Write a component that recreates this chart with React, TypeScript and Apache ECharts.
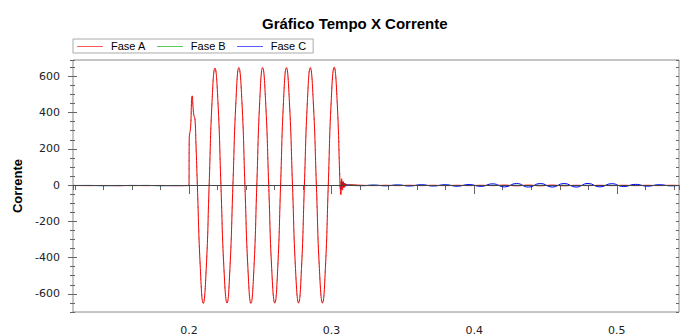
import React, { useEffect, useRef } from 'react';
import * as echarts from 'echarts';

// ---- Data ----
const seriesNames = ['Fase A', 'Fase B', 'Fase C'];
const seriesColors = ['#ff0000', '#00b000', '#0000ff'];

// pre-fault (all phases near zero)
const preTime = [0.1187, 0.13, 0.14, 0.15, 0.16, 0.17, 0.18, 0.19, 0.2];
const preA = [-2, -3, -2, -3, -2, -3, -2, -3, -2];
const preB = [-3, -2, -3, -2, -3, -2, -3, -2, -3];
const preC = [-2, -2, -3, -3, -2, -2, -3, -3, -2];

// fault interval (all three traces overlap here, Fase A drawn on top)
const faultTime = [
  0.20021, 0.20119, 0.20189, 0.20231, 0.2028, 0.2035, 0.2042, 0.20491, 0.20589, 0.20799,
  0.21002, 0.21212, 0.21416, 0.21619, 0.21822, 0.22032, 0.22242, 0.22453, 0.2267, 0.22873,
  0.23083, 0.23294, 0.23497, 0.23714, 0.23924, 0.24135, 0.24345, 0.24555, 0.24758, 0.24961,
  0.25165, 0.25375, 0.25592, 0.25802, 0.2602, 0.26223, 0.26426, 0.26629, 0.26833, 0.27043,
  0.2726, 0.2747, 0.27687, 0.2789, 0.28094, 0.28304, 0.28507, 0.28718, 0.28935, 0.29145,
  0.29362, 0.29566, 0.29769, 0.29972, 0.30182, 0.30392, 0.30596,
];
const faultCurrent = [
  256, 322, 474, 492, 437, 383, 365, 230, 0, -460,
  -652, -460, 0, 460, 645, 460, 0, -460, -650, -460,
  0, 460, 648, 460, 0, -460, -652, -460, 0, 460,
  648, 460, 0, -460, -650, -460, 0, 460, 648, 460,
  0, -460, -650, -460, 0, 460, 648, 460, 0, -460,
  -650, -460, 0, 460, 650, 460, 0,
];

// clearing transient
const transientTime = [0.30652, 0.30708, 0.30764, 0.3082, 0.30876, 0.30932, 0.31002, 0.31072, 0.31177, 0.31282];
const transientA = [-53, 35, -28, 20, -14, 10, -6, 4, -2, 1];
const transientB = [14, 22, -8, 14, -8, 8, -5, 4, -2, 1];
const transientC = [-24, 8, 16, -12, 9, -7, 5, -3, 2, -1];

// post-fault small ripple
const rippleTime = [
  0.3213, 0.3296, 0.338, 0.3463, 0.3547, 0.363, 0.3713, 0.3797, 0.388, 0.3964,
  0.4047, 0.413, 0.4214, 0.4297, 0.4381, 0.4464, 0.4547, 0.4631, 0.4714, 0.4798,
  0.4881, 0.4964, 0.5048, 0.5131, 0.5215, 0.5298, 0.5381, 0.5436,
];
const rippleA = [-1, -3, -1, -3, -1, -3, -1, -3, -1, -3, -1, -3, 0, -4, 0, -4, 0, -4, -1, -3, -1, -3, -1, -3, -1, -3, -1, -2];
const rippleB = [-3, -1, -3, -1, -3, -1, -3, -1, -3, -1, -3, -1, -3, -1, -3, -1, -3, -1, -3, -1, -3, -1, -3, -1, -3, -1, -3, -2];
const rippleC = [-3, 0, -4, 1, -5, 2, -5, 2, -6, 3, -7, 7, -10, 9, -11, 9, -11, 9, -11, 9, -10, 8, -8, 4, -6, 2, -4, -2];

const xMin = 0.1187;
const xMax = 0.5436;
const yMin = -700;
const yMax = 690;

const zip = (t: number[], v: number[]) => t.map((x, i) => [x, v[i]]);
const lastPre = preTime.length - 1;

const dataA = [
  ...zip(preTime, preA),
  ...zip(faultTime, faultCurrent),
  ...zip(transientTime, transientA),
  ...zip(rippleTime, rippleA),
];
// B and C: outside the fault (the fault part is drawn as faint overlays below Fase A)
const outside = (pre: number[], tr: number[], rp: number[]) => [
  ...zip(preTime, pre),
  [faultTime[0], null],
  [faultTime[faultTime.length - 1], 0],
  ...zip(transientTime, tr),
  ...zip(rippleTime, rp),
];
const dataB = outside(preB, transientB, rippleB);
const dataC = outside(preC, transientC, rippleC);
const faultOverlay = (pre: number[]) => [
  [preTime[lastPre], pre[lastPre]],
  ...zip(faultTime, faultCurrent),
];

const FONT = 'Liberation Sans, Arial, sans-serif';
const TICKFONT = 'DejaVu Sans, Verdana, sans-serif';
const tickColor = '#666';
// legend swatch start x positions (legend item layout)
const legendSwatchX = [77, 157, 237];

export default function App() {
  const ref = useRef<HTMLDivElement>(null);
  useEffect(() => {
    if (!ref.current) return;
    const chart = echarts.init(ref.current, null, { renderer: 'svg' });
    const common = { type: 'value', min: xMin, max: xMax, splitLine: { show: false } };
    const commonY = { type: 'value', min: yMin, max: yMax, splitLine: { show: false } };
    const mkSeries = (i: number, data: any[], z: number, extra: any = {}) => ({
      name: seriesNames[i],
      type: 'line',
      data,
      color: seriesColors[i],
      showSymbol: false,
      symbol: 'none',
      smooth: 0.5,
      connectNulls: false,
      z,
      lineStyle: { color: seriesColors[i], width: 1 },
      itemStyle: { color: seriesColors[i] },
      ...extra,
    });
    chart.setOption({
      animation: false,
      title: {
        text: 'Gráfico Tempo X Corrente',
        left: 257,
        top: 11,
        textStyle: { fontFamily: FONT, fontSize: 15, fontWeight: 'bold', color: '#000' },
      },
      legend: {
        data: seriesNames,
        left: 73,
        top: 39,
        padding: [1, 7, 1, 4],
        icon: 'rect',
        itemWidth: 26,
        itemHeight: 12,
        itemGap: 11,
        borderColor: '#aaa',
        borderWidth: 1,
        itemStyle: { opacity: 0 },
        lineStyle: { opacity: 0 },
        textStyle: { fontFamily: FONT, fontSize: 11, color: '#000', padding: [0, 0, 0, 3] },
      },
      graphic: legendSwatchX.map((x, i) => ({
        type: 'line',
        silent: true,
        z: 100,
        shape: { x1: x, y1: 46.5, x2: x + 26, y2: 46.5 },
        style: { stroke: seriesColors[i], lineWidth: 1, opacity: 0.65 },
      })),
      grid: {
        left: 73,
        right: 10,
        top: 60,
        bottom: 21,
        show: true,
        borderColor: '#8a8a8a',
        borderWidth: 1,
      },
      xAxis: [
        {
          ...common,
          position: 'bottom',
          splitNumber: 4,
          offset: -4,
          axisLine: { show: false },
          axisTick: { show: true, length: 9, lineStyle: { color: tickColor } },
          axisLabel: {
            margin: 17,
            fontFamily: TICKFONT,
            fontSize: 11,
            color: '#222',
            showMinLabel: false,
            showMaxLabel: false,
            formatter: (v: number) => v.toFixed(1),
          },
        },
        {
          ...common,
          position: 'bottom',
          splitNumber: 21,
          offset: -2,
          axisLine: { show: false },
          axisTick: { show: true, length: 5, lineStyle: { color: tickColor } },
          axisLabel: { show: false },
        },
        {
          ...common,
          position: 'top',
          splitNumber: 21,
          axisLine: { show: false },
          axisTick: { show: true, inside: true, length: 3, lineStyle: { color: tickColor } },
          axisLabel: { show: false },
        },
      ],
      yAxis: [
        {
          ...commonY,
          position: 'left',
          splitNumber: 7,
          offset: -4,
          name: 'Corrente',
          nameLocation: 'middle',
          nameGap: 50,
          nameTextStyle: { fontFamily: FONT, fontSize: 13, fontWeight: 'bold', color: '#000' },
          axisLine: { show: false },
          axisTick: { show: true, length: 9, lineStyle: { color: tickColor } },
          axisLabel: {
            margin: 17,
            fontFamily: TICKFONT,
            fontSize: 11,
            color: '#222',
            showMinLabel: false,
            showMaxLabel: false,
          },
        },
        {
          ...commonY,
          position: 'left',
          splitNumber: 28,
          offset: -2,
          axisLine: { show: false },
          axisTick: { show: true, length: 5, lineStyle: { color: tickColor } },
          axisLabel: { show: false },
        },
        {
          ...commonY,
          position: 'right',
          splitNumber: 28,
          axisLine: { show: false },
          axisTick: { show: true, inside: true, length: 3, lineStyle: { color: tickColor } },
          axisLabel: { show: false },
        },
      ],
      series: [
        mkSeries(0, dataA, 4, {
          markLine: {
            silent: true,
            symbol: 'none',
            label: { show: false },
            lineStyle: { color: '#444', width: 1, type: 'solid' },
            data: [{ yAxis: 0 }],
          },
        }),
        mkSeries(1, dataB, 2),
        mkSeries(2, dataC, 3),
        mkSeries(1, faultOverlay(preB), 1, { lineStyle: { color: seriesColors[1], width: 1, opacity: 0.15 } }),
        mkSeries(2, faultOverlay(preC), 1, { lineStyle: { color: seriesColors[2], width: 1, opacity: 0.3, type: [2, 6] } }),
      ],
    });
    return () => chart.dispose();
  }, []);
  return <div ref={ref} style={{ width: 689, height: 336, position: 'absolute', left: 0, top: 0 }} />;
}
